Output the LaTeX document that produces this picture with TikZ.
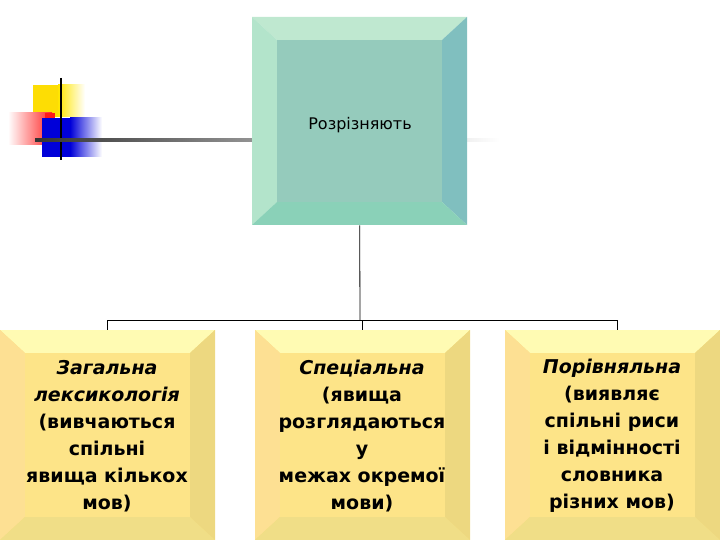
\documentclass[tikz,border=0pt]{standalone}
\usepackage{fontspec}
\setmainfont{DejaVu Sans}
\begin{document}
\begin{tikzpicture}[x=1pt,y=-1pt,
  lbl/.style={align=center,font=\bfseries\fontsize{19}{27}\selectfont,text=black},
  conn/.style={draw=black,line width=0.8pt}]
\useasboundingbox (0,0) rectangle (720,540);
\newcommand\bevbox[9]{% name x1 y1 x2 y2 face top left right bottom via colors
  \fill[#6] (#2,#3) rectangle (#4,#5);
  \fill[#7] (#2,#3) -- (#4,#3) -- (#4-25,#3+23) -- (#2+25,#3+23) -- cycle;
  \fill[#8] (#2,#3) -- (#2+25,#3+23) -- (#2+25,#5-23) -- (#2,#5) -- cycle;
  \fill[#9] (#4,#3) -- (#4,#5) -- (#4-25,#5-23) -- (#4-25,#3+23) -- cycle;
  \node[minimum width=#4-#2,minimum height=#5-#3,inner sep=0,anchor=north west] (#1) at (#2,#3) {};
}
% decoration
\fill[yellow!80!orange] (33,85) rectangle (58,117);
\shade[left color=yellow!80!orange,right color=white] (58,85) rectangle (85,117);
\shade[left color=white,right color=red!85] (8,113) rectangle (52,145);
\fill[red!90] (45,113) rectangle (55,145);
\fill[blue!85!black] (42,118) rectangle (70,157);
\shade[left color=blue!85!black,right color=white] (70,118) rectangle (102,157);
\draw[line width=2.5pt,black] (61,78) -- (61,160);
\shade[left color=black!80,right color=white] (35,138.8) rectangle (500,141.2);
% top box
\bevbox{top}{252}{17}{467}{225}{fill=teal!25!cyan!30!white,fill=cyan!10!green!5!white}{fill=cyan!25!green!25!white}{fill=cyan!30!green!30!white}{fill=teal!50!white}
\fill[teal!40!white!90!green] (252,225) -- (467,225) -- (442,202) -- (277,202) -- cycle;
\fill[cyan!45!green!40!white!90!black] (277,40) rectangle (442,202);
\node[font=\fontsize{16}{18}\selectfont] (tl) at (360,125) {Розрізняють};
% bottom boxes
\foreach \n/\x in {b1/0,b2/255,b3/505}{
  \fill[yellow!60!orange!55!white] (\x,330) rectangle (\x+215,540);
  \fill[yellow!30!white] (\x,330) -- (\x+215,330) -- (\x+190,353) -- (\x+25,353) -- cycle;
  \fill[yellow!45!orange!40!white] (\x,330) -- (\x+25,353) -- (\x+25,517) -- (\x,540) -- cycle;
  \fill[yellow!50!brown!60!white] (\x+215,330) -- (\x+215,540) -- (\x+190,517) -- (\x+190,353) -- cycle;
  \fill[yellow!55!brown!55!white] (\x,540) -- (\x+215,540) -- (\x+190,517) -- (\x+25,517) -- cycle;
  \fill[yellow!60!orange!45!white] (\x+25,353) rectangle (\x+190,517);
  \node[minimum width=215,minimum height=210,inner sep=0,anchor=north west] (\n) at (\x,330) {};
}
\node[lbl] (t1) at (107,436) {\itshape Загальна\\\itshape лексикологія\\(вивчаються\\спільні\\явища кількох\\мов)};
\node[lbl] (t2) at (362,436) {\itshape Спеціальна\\(явища\\розглядаються\\у\\межах окремої\\мови)};
\node[lbl] (t3) at (612,436) {\itshape Порівняльна\\(виявляє\\спільні риси\\і відмінності\\словника\\різних мов)};
% connectors
\coordinate (j) at (360,320);
\draw[conn] (top.south) -- (j);
\draw[conn] (j) -| ([xshift=-0.5pt]b1.north);
\draw[conn] (j) -| (b2.north);
\draw[conn] (j) -| ([xshift=5pt]b3.north);
\end{tikzpicture}
\end{document}
